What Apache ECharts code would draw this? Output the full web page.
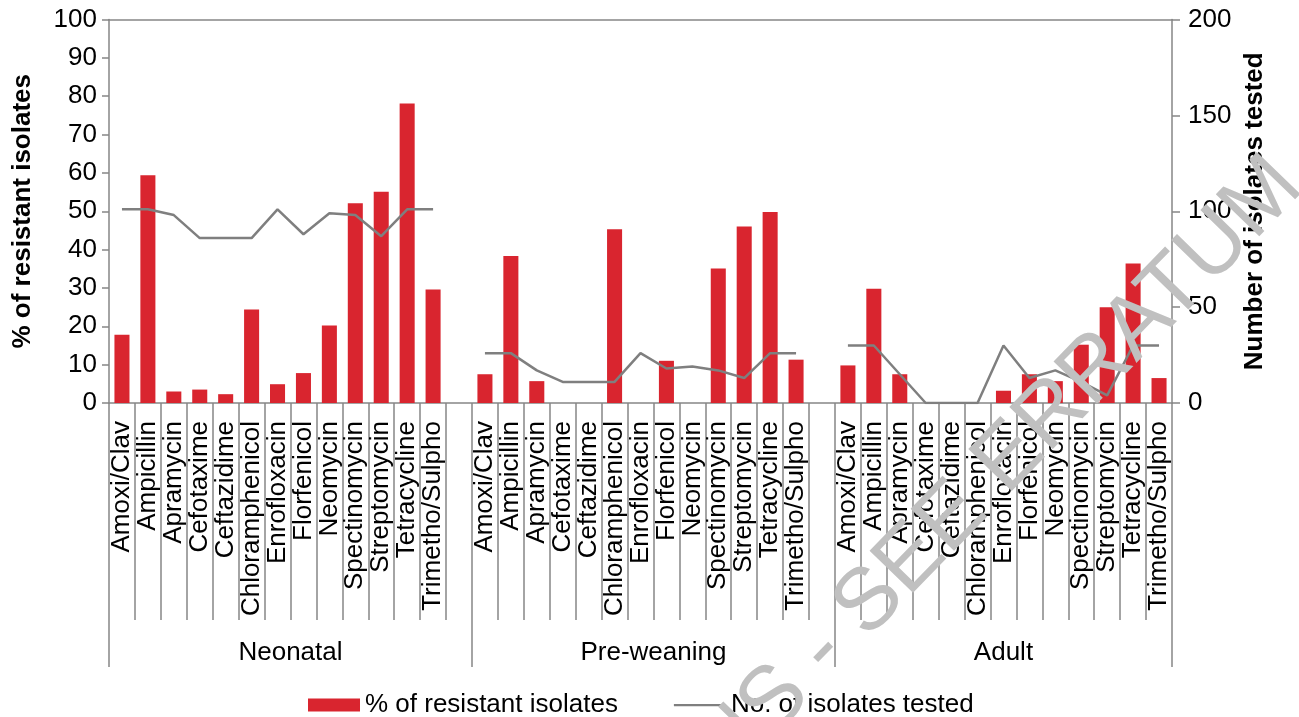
<!DOCTYPE html>
<html>
<head>
<meta charset="utf-8">
<script src="https://cdn.jsdelivr.net/npm/echarts@6/dist/echarts.min.js"></script>
<style>
html,body{margin:0;padding:0;background:#fff;}
#chart{width:1299px;height:717px;}
</style>
</head>
<body>
<div id="chart"></div>
<script>
// ---- data ----
var antibiotics = ['Amoxi/Clav','Ampicillin','Apramycin','Cefotaxime','Ceftazidime','Chloramphenicol','Enrofloxacin','Florfenicol','Neomycin','Spectinomycin','Streptomycin','Tetracycline','Trimetho/Sulpho'];
var groups = ['Neonatal','Pre-weaning','Adult'];
var neonatalPct = [17.8, 59.4, 3.0, 3.5, 2.3, 24.4, 4.9, 7.8, 20.2, 52.1, 55.1, 78.1, 29.6];
var neonatalN   = [101, 101, 98, 86, 86, 86, 101, 88, 99, 98, 87, 101, 101];
var preweanPct  = [7.5, 38.3, 5.7, 0, 0, 45.3, 0, 11.0, 0, 35.1, 46.0, 49.8, 11.3];
var preweanN    = [26, 26, 17, 11, 11, 11, 26, 18, 19, 17, 13, 26, 26];
var adultPct    = [9.8, 29.8, 7.5, 0, 0, 0, 3.2, 7.5, 5.7, 15.2, 25.0, 36.4, 6.5];
var adultN      = [30, 30, 15, 0, 0, 0, 30, 13, 17, 11, 4, 30, 30];
var leftTicks = [0,10,20,30,40,50,60,70,80,90,100];
var rightTicks = [0,50,100,150,200];

// ---- build category sequence (blank slot after first two groups) ----
var cats = [].concat(antibiotics, [''], antibiotics, [''], antibiotics);
var pct = [].concat(neonatalPct, [null], preweanPct, [null], adultPct);
var nTested = [].concat(neonatalN, [null], preweanN, [null], adultN);
var nSlots = cats.length;
var g1 = antibiotics.length + 1, g2 = 2 * (antibiotics.length + 1);
var groupBounds = [0, g1, g2, nSlots];
var groupCenters = [g1 / 2, (g1 + g2) / 2, (g2 + nSlots) / 2];

var FONT = '"Liberation Sans", Arial, sans-serif';
var AX = '#868686';
var LINE_ICON = 'path://M0,0 L54,0 Z M0,5.5 L54,5.5 L54,7.7 L0,7.7 Z M0,13 L54,13 Z';

var chart = echarts.init(document.getElementById('chart'), null, {renderer: 'canvas'});
chart.setOption({
  animation: false,
  textStyle: {fontFamily: FONT, color: '#000'},
  grid: {left: 109, right: 127, top: 19.5, bottom: 314, containLabel: false},
  legend: {
    left: 303, top: 687,
    itemWidth: 52, itemHeight: 13, itemGap: 56,
    textStyle: {fontSize: 26, color: '#000', fontFamily: FONT},
    data: [
      {name: '% of resistant isolates', icon: 'rect'},
      {name: 'No. of isolates tested', icon: LINE_ICON}
    ]
  },
  xAxis: [
    {
      type: 'category', data: cats, position: 'bottom',
      axisLine: {lineStyle: {color: AX, width: 1.5}},
      axisTick: {show: true, length: 217, interval: 0, lineStyle: {color: AX, width: 1.5}},
      axisLabel: {interval: 0, rotate: 90, margin: 18, fontSize: 26, color: '#000', fontFamily: FONT}
    },
    {
      type: 'value', min: 0, max: nSlots, position: 'bottom',
      axisLine: {show: false},
      splitLine: {show: false},
      axisTick: {show: true, length: 264, customValues: groupBounds, lineStyle: {color: AX, width: 1.5}},
      axisLabel: {
        customValues: groupCenters, margin: 237, fontSize: 26, color: '#000', fontFamily: FONT,
        formatter: function (v) { var i = groupCenters.indexOf(v); return i >= 0 ? groups[i] : ''; }
      }
    },
    {
      type: 'category', data: cats, position: 'top',
      axisLine: {show: true, lineStyle: {color: AX, width: 1.5}},
      axisTick: {show: false}, axisLabel: {show: false}
    }
  ],
  yAxis: [
    {
      type: 'value', min: leftTicks[0], max: leftTicks[leftTicks.length - 1], interval: 10,
      name: '% of resistant isolates', nameLocation: 'middle', nameGap: 73,
      nameTextStyle: {fontSize: 26, fontWeight: 'bold', color: '#000', fontFamily: FONT},
      axisLine: {show: true, lineStyle: {color: AX, width: 1.5}},
      axisTick: {show: true, length: 7, lineStyle: {color: AX, width: 1.5}},
      axisLabel: {fontSize: 26, color: '#000', margin: 12, fontFamily: FONT},
      splitLine: {show: false}
    },
    {
      type: 'value', min: rightTicks[0], max: rightTicks[rightTicks.length - 1], interval: 50,
      position: 'right',
      name: 'Number of isolates tested', nameLocation: 'middle', nameGap: 66,
      nameTextStyle: {fontSize: 26, fontWeight: 'bold', color: '#000', fontFamily: FONT},
      axisLine: {show: true, lineStyle: {color: AX, width: 1.5}},
      axisTick: {show: true, length: 8, lineStyle: {color: AX, width: 1.5}},
      axisLabel: {fontSize: 26, color: '#000', margin: 16, fontFamily: FONT},
      splitLine: {show: false}
    }
  ],
  series: [
    {
      name: '% of resistant isolates', type: 'bar', xAxisIndex: 0, yAxisIndex: 0,
      data: pct, barWidth: '58%',
      itemStyle: {color: '#D9252F'}
    },
    {
      name: 'No. of isolates tested', type: 'line', xAxisIndex: 0, yAxisIndex: 1,
      data: nTested, symbol: 'none', connectNulls: false,
      lineStyle: {color: '#7F7F7F', width: 2.5},
      itemStyle: {color: '#7F7F7F'}
    }
  ],
  graphic: [
    {
      type: 'text', x: 1288, y: 172, rotation: 0.80, z: 100, silent: true,
      style: {text: 'NS - SEE ERRATUM', fontSize: 88, fontFamily: FONT, fill: '#C0C0C0', align: 'right', verticalAlign: 'middle'}
    }
  ]
});
</script>
</body>
</html>
